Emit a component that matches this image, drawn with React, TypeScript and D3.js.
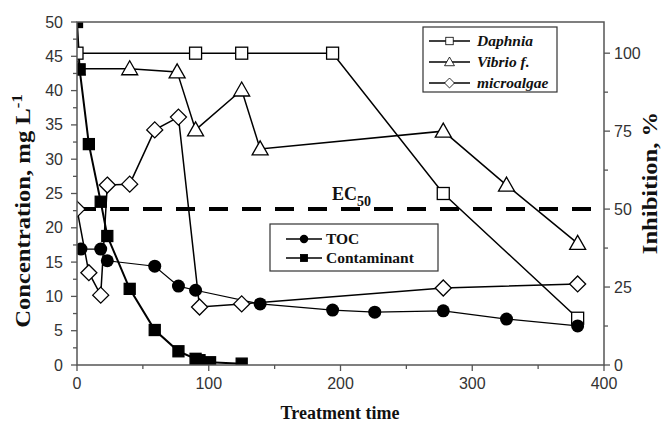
import React from "react";
import * as d3 from "d3";

// Treatment-time series (x) and their measured values
const daphniaT = [0, 90, 125, 194, 278, 380];
const daphniaV = [100, 100, 100, 100, 55, 15];

const vibrioT = [0, 40, 76, 90, 125, 139, 278, 326, 380];
const vibrioV = [95, 95, 94, 75.4, 88.2, 69.3, 75, 57.7, 39];

const algaeT = [0, 9, 18, 23, 40, 59, 77, 93, 125, 278, 380];
const algaeV = [50, 29.6, 22.4, 57.7, 58, 75.4, 79.5, 18.6, 19.6, 24.7, 26];

const tocT = [3, 18, 23, 59, 77, 90, 139, 194, 226, 278, 326, 380];
const tocV = [16.9, 16.9, 15.2, 14.4, 11.5, 10.9, 8.9, 8.0, 7.7, 7.9, 6.7, 5.7];

const contT = [0, 2, 9, 18, 23, 40, 59, 77, 90, 93, 101, 125];
const contV = [50, 43.1, 32.2, 23.8, 18.8, 11.1, 5.1, 2.0, 0.9, 0.7, 0.4, 0.2];

const ec50 = 50;

const xTicks = [0, 100, 200, 300, 400];
const yLeftTicks = [0, 5, 10, 15, 20, 25, 30, 35, 40, 45, 50];
const yRightTicks = [0, 25, 50, 75, 100];

const W = 662;
const H = 426;
const M = { left: 77, right: 58, top: 22, bottom: 61 };

type Shape = "openSquare" | "triangle" | "diamond" | "circle" | "filledSquare";

function Marker({ shape, x, y }: { shape: Shape; x: number; y: number }) {
  const sw = 1.3;
  switch (shape) {
    case "openSquare":
      return <rect x={x - 6} y={y - 6} width={12} height={12} fill="#fff" stroke="#000" strokeWidth={sw} />;
    case "filledSquare":
      return <rect x={x - 5.5} y={y - 5.5} width={11} height={11} fill="#000" stroke="#000" strokeWidth={sw} />;
    case "triangle":
      return (
        <path
          d={`M${x},${y - 8} L${x + 8},${y + 6} L${x - 8},${y + 6} Z`}
          fill="#fff"
          stroke="#000"
          strokeWidth={sw}
        />
      );
    case "diamond":
      return (
        <path
          d={`M${x},${y - 8} L${x + 8},${y} L${x},${y + 8} L${x - 8},${y} Z`}
          fill="#fff"
          stroke="#000"
          strokeWidth={sw}
        />
      );
    case "circle":
      return <circle cx={x} cy={y} r={6.5} fill="#000" />;
  }
}

export default function App() {
  const x = d3.scaleLinear().domain([0, 400]).range([M.left, W - M.right]);
  const yL = d3.scaleLinear().domain([0, 50]).range([H - M.bottom, M.top]);
  const yR = d3.scaleLinear().domain([0, 110]).range([H - M.bottom, M.top]);

  const x0 = M.left;
  const x1 = W - M.right;
  const y0 = H - M.bottom;
  const y1 = M.top;

  const line = d3.line<[number, number]>();

  const series: { t: number[]; v: number[]; y: d3.ScaleLinear<number, number>; shape: Shape; lw: number }[] = [
    { t: algaeT, v: algaeV, y: yR, shape: "diamond", lw: 1.5 },
    { t: vibrioT, v: vibrioV, y: yR, shape: "triangle", lw: 1.5 },
    { t: daphniaT, v: daphniaV, y: yR, shape: "openSquare", lw: 1.5 },
    { t: tocT, v: tocV, y: yL, shape: "circle", lw: 1.2 },
    { t: contT, v: contV, y: yL, shape: "filledSquare", lw: 2 },
  ];

  const tickFont = "'Liberation Sans', Arial, sans-serif";
  const serif = "'Liberation Serif', 'Times New Roman', serif";
  const axisColor = "#555";
  const labelColor = "#333";

  const xMinor = d3.range(0, 401, 50);
  const yLMinor = d3.range(0, 50.1, 2.5);
  const yRMinor = d3.range(0, 110, 12.5);

  return (
    <svg width={W} height={H} style={{ position: "absolute", left: 0, top: 0, background: "#fff" }}>
      <defs>
        <clipPath id="plot-area">
          <rect x={x0} y={y1} width={x1 - x0} height={y0 - y1} />
        </clipPath>
      </defs>

      {/* EC50 reference line */}
      <line
        x1={x0}
        x2={x1}
        y1={yR(ec50)}
        y2={yR(ec50)}
        stroke="#000"
        strokeWidth={4}
        strokeDasharray="19 14"
      />
      <text x={332} y={200} fontFamily={serif} fontWeight="bold" fontSize={18} fill="#111">
        EC
        <tspan fontSize={14} dy={6}>50</tspan>
      </text>

      <g clipPath="url(#plot-area)">
        {series.map((s, i) => (
          <path
            key={`l${i}`}
            d={line(s.t.map((t, j) => [x(t), s.y(s.v[j])]))!}
            fill="none"
            stroke="#000"
            strokeWidth={s.lw}
          />
        ))}
        {series.map((s, i) =>
          s.t.map((t, j) => <Marker key={`m${i}-${j}`} shape={s.shape} x={x(t)} y={s.y(s.v[j])} />)
        )}
      </g>

      {/* Frame */}
      <rect x={x0} y={y1} width={x1 - x0} height={y0 - y1} fill="none" stroke={axisColor} strokeWidth={1.5} />

      {/* Bottom axis */}
      {xMinor.map((t) => (
        <line key={`xm${t}`} x1={x(t)} x2={x(t)} y1={y0} y2={y0 + (t % 100 === 0 ? 6 : 4)} stroke={axisColor} strokeWidth={1.3} />
      ))}
      {xTicks.map((t) => (
        <text key={`xt${t}`} x={x(t)} y={389} textAnchor="middle" fontFamily={tickFont} fontSize={16} fill={labelColor}>
          {t}
        </text>
      ))}

      {/* Left axis */}
      {yLMinor.map((v) => (
        <line key={`ylm${v}`} x1={x0} x2={x0 - (v % 5 === 0 ? 6 : 4)} y1={yL(v)} y2={yL(v)} stroke={axisColor} strokeWidth={1.3} />
      ))}
      {yLeftTicks.map((v) => (
        <text key={`ylt${v}`} x={63} y={yL(v) + 5.5} textAnchor="end" fontFamily={tickFont} fontSize={16} fill={labelColor}>
          {v}
        </text>
      ))}

      {/* Right axis */}
      {yRMinor.map((v) => (
        <line key={`yrm${v}`} x1={x1} x2={x1 + (v % 25 === 0 ? 6 : 4)} y1={yR(v)} y2={yR(v)} stroke={axisColor} strokeWidth={1.3} />
      ))}
      {yRightTicks.map((v) => (
        <text key={`yrt${v}`} x={614} y={yR(v) + 5.5} textAnchor="start" fontFamily={tickFont} fontSize={16} fill={labelColor}>
          {v}
        </text>
      ))}

      {/* Axis titles */}
      <text x={340} y={419} textAnchor="middle" fontFamily={serif} fontWeight="bold" fontSize={18} fill="#111">
        Treatment time
      </text>
      <text
        transform={`translate(30, 211) rotate(-90) scale(1.12, 1)`}
        textAnchor="middle"
        fontFamily={serif}
        fontWeight="bold"
        fontSize={22}
        fill="#111"
      >
        Concentration, mg L<tspan fontSize={15} dy={-8}>-1</tspan>
      </text>
      <text
        transform={`translate(657, 183) rotate(-90) scale(1.12, 1)`}
        textAnchor="middle"
        fontFamily={serif}
        fontWeight="bold"
        fontSize={22}
        fill="#111"
      >
        Inhibition, %
      </text>

      {/* Toxicity legend */}
      <rect x={423} y={27} width={134} height={65} fill="#fff" stroke="#333" strokeWidth={1.2} />
      {[
        { label: "Daphnia", shape: "openSquare" as Shape, y: 41 },
        { label: "Vibrio f.", shape: "triangle" as Shape, y: 62 },
        { label: "microalgae", shape: "diamond" as Shape, y: 83 },
      ].map((e) => (
        <g key={e.label}>
          <line x1={429} x2={470} y1={e.y} y2={e.y} stroke="#000" strokeWidth={1.5} />
          <g transform={`translate(${449.5},${e.y}) scale(0.62) translate(${-449.5},${-e.y})`}>
            <Marker shape={e.shape} x={449.5} y={e.y} />
          </g>
          <text x={477} y={e.y + 5} fontFamily={serif} fontStyle="italic" fontWeight="bold" fontSize={15.5} fill="#111">
            {e.label}
          </text>
        </g>
      ))}

      {/* Concentration legend */}
      <rect x={270} y={224} width={168} height={47} fill="#fff" stroke="#333" strokeWidth={1.2} />
      {[
        { label: "TOC", shape: "circle" as Shape, y: 239 },
        { label: "Contaminant", shape: "filledSquare" as Shape, y: 258 },
      ].map((e) => (
        <g key={e.label}>
          <line x1={286} x2={322} y1={e.y} y2={e.y} stroke="#000" strokeWidth={1.3} />
          <g transform={`translate(${304},${e.y}) scale(0.65) translate(${-304},${-e.y})`}>
            <Marker shape={e.shape} x={304} y={e.y} />
          </g>
          <text x={326} y={e.y + 5} fontFamily={serif} fontWeight="bold" fontSize={15.5} fill="#111">
            {e.label}
          </text>
        </g>
      ))}
    </svg>
  );
}
